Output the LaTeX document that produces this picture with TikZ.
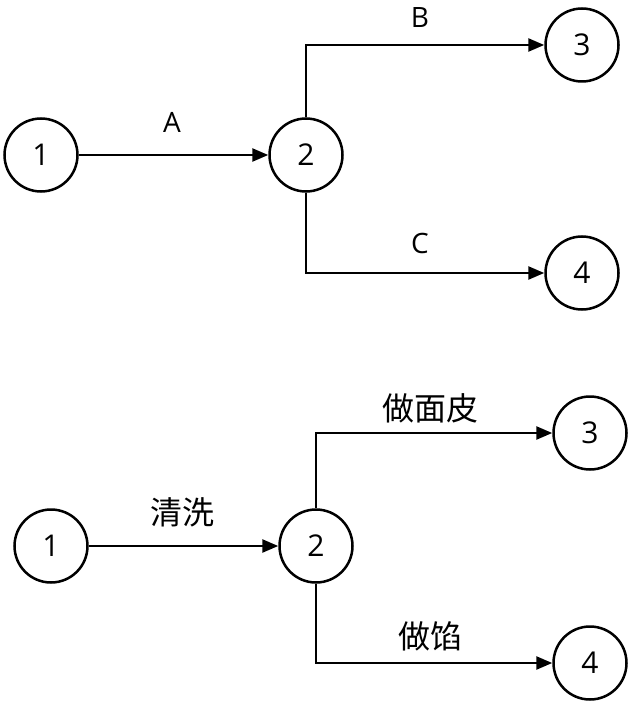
\documentclass[tikz,border=0pt]{standalone}
\usepackage{fontspec}
\setmainfont{Open Sans}
\newfontfamily\cjk{Noto Sans CJK SC}
\usetikzlibrary{arrows.meta}
\begin{document}
\begin{tikzpicture}[x=1pt,y=-1pt,
  st/.style={circle,draw,line width=2.5pt,minimum size=73pt,inner sep=0pt,font=\fontsize{30}{30}\selectfont},
  ar/.style={line width=2.5pt,-{Triangle[length=16pt,width=13pt]}},
  lb/.style={font=\fontsize{28}{28}\selectfont},
  cl/.style={font=\cjk\fontsize{32}{32}\selectfont}]
\useasboundingbox (0,0) rectangle (635,711);
\node[st] (a1) at (41,155) {1};
\node[st] (a2) at (306,155) {2};
\node[st] (a3) at (582,45) {3};
\node[st] (a4) at (582,273) {4};
\draw[ar] (a1) -- (a2);
\draw[ar] (a2.north) |- (a3.west);
\draw[ar] (a2.south) |- (a4.west);
\node[lb] (la) at (172,122) {A};
\node[lb] (lbb) at (420,18) {B};
\node[lb] (lc) at (420,243) {C};
\node[st] (b1) at (51,546) {1};
\node[st] (b2) at (316,546) {2};
\node[st] (b3) at (590,433) {3};
\node[st] (b4) at (590,663) {4};
\draw[ar] (b1) -- (b2);
\draw[ar] (b2.north) |- (b3.west);
\draw[ar] (b2.south) |- (b4.west);
\node[cl] (l1) at (182,512) {清洗};
\node[cl] (l2) at (430,408) {做面皮};
\node[cl] (l3) at (430,636) {做馅};
\end{tikzpicture}
\end{document}
